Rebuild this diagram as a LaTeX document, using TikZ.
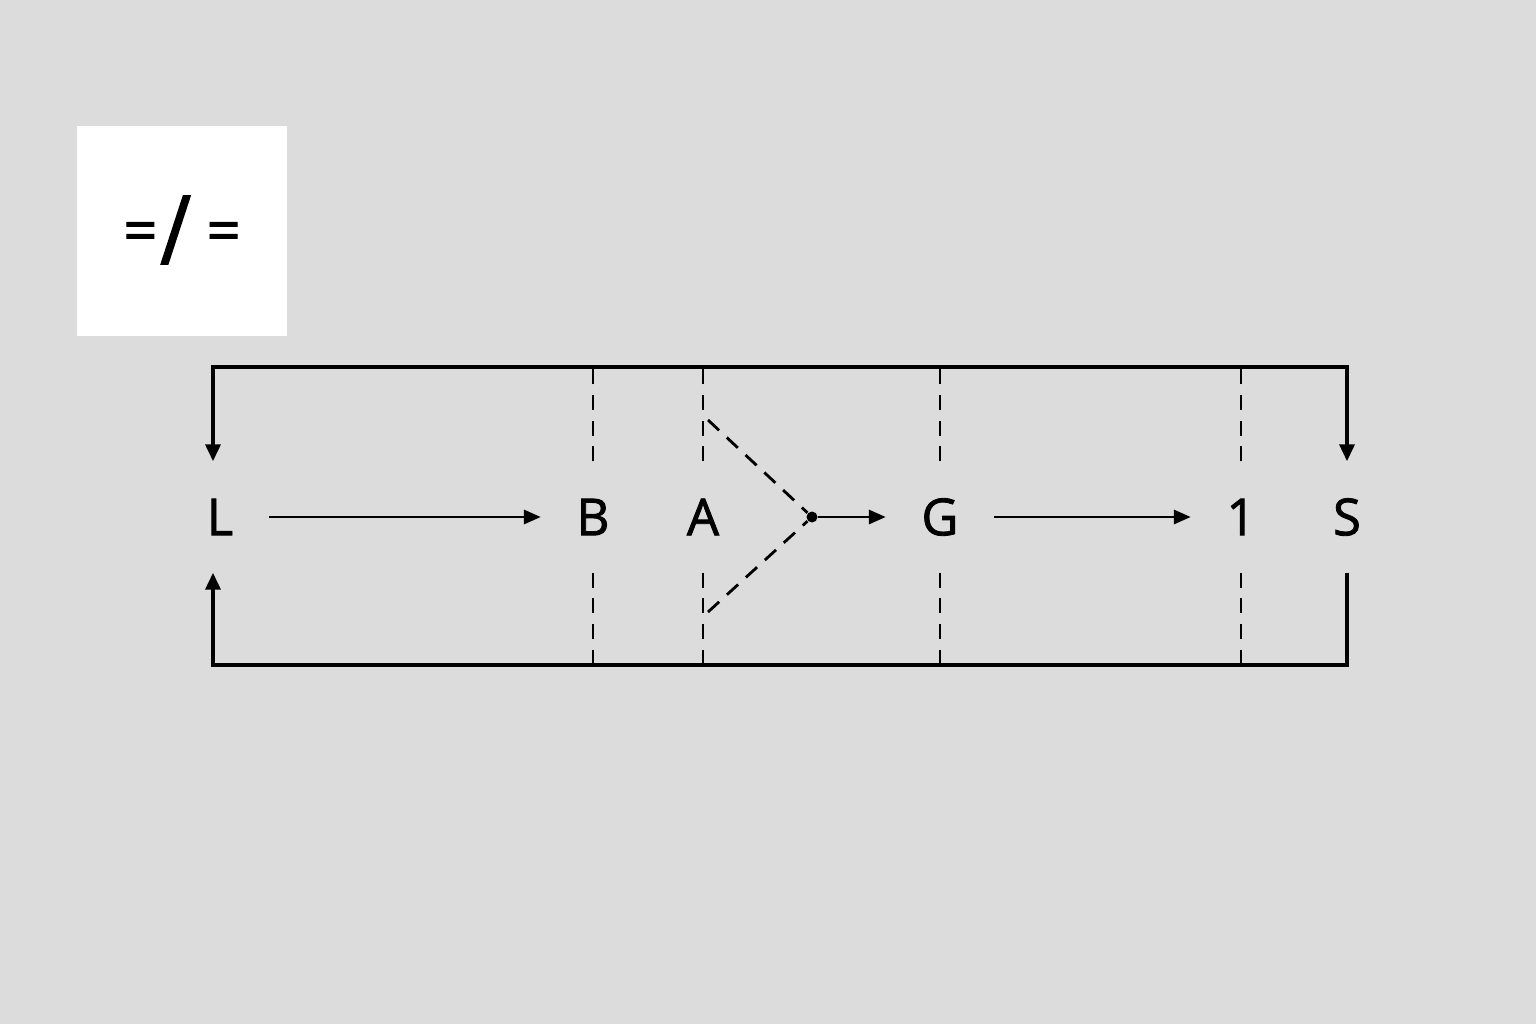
\documentclass[tikz,border=0pt]{standalone}
\usepackage{fontspec}
\setmainfont{Open Sans}
\newfontfamily\labelfont[FakeBold=1.6]{Open Sans}
\usepackage{graphicx}
\usetikzlibrary{arrows.meta}
\definecolor{bggray}{HTML}{DCDCDC}
\tikzstyle{letter} = [text=black, minimum height=1.1cm, inner xsep=0.35cm, font=\labelfont\fontsize{14.5pt}{17pt}\selectfont]
\tikzstyle{frame} = [line width=1.1pt]
\tikzstyle{framearrows} = [frame, {Triangle[length=4.8pt,width=4.2pt]}-{Triangle[length=4.8pt,width=4.2pt]}]
\tikzstyle{framearrow} = [frame, -{Triangle[length=4.8pt,width=4.2pt]}]
\tikzstyle{arrow} = [line width=0.8pt, -{Triangle[length=4.8pt,width=4pt]}]
\tikzstyle{guide} = [line width=0.8pt, dash pattern=on 4.3pt off 3pt]
\begin{document}
\begin{tikzpicture}
  \fill[bggray] (0,0) rectangle (15.36,10.24);
  \useasboundingbox (0,0) rectangle (15.36,10.24);

  % sign box
  \fill[white] (0.77,6.88) rectangle (2.87,8.98);
  \node (sign) at (1.82,7.94) [font=\labelfont\fontsize{17pt}{20pt}\selectfont] {=\hspace{0.8pt}\raisebox{-3.6pt}{\scalebox{1.4}[1.6]{/}}\ =};

  % row of labels
  \node (L) [letter] at (2.20,5.07) {L};
  \node (B) [letter] at (5.93,5.07) {B};
  \node (A) [letter] at (7.03,5.07) {A};
  \node (G) [letter] at (9.40,5.07) {G};
  \node (one) [letter] at (12.41,5.07) {1};
  \node (S) [letter] at (13.47,5.07) {S};
  \node (dot) [circle, fill=black, inner sep=0pt, minimum size=0.11cm] at (8.12,5.07) {};

  \coordinate (topline) at (7.80,6.57);
  \coordinate (botline) at (7.80,3.59);
  \coordinate (splitup) at (7.08,6.04);
  \coordinate (splitdown) at (7.08,4.12);

  % outer frame
  \draw [framearrows] ([xshift=-0.07cm]L.north) |- (topline) -| (S.north);
  \draw [framearrow] (S.south) |- (botline) -| ([xshift=-0.07cm]L.south);

  % dashed guides
  \foreach \n in {B,A,G,one} {
    \draw [guide] (\n.north) -- (\n.north |- topline);
    \draw [guide] (\n.south) -- (\n.south |- botline);
  }
  \draw [guide] (splitup) -- (dot);
  \draw [guide] (splitdown) -- (dot);

  \draw [arrow] (L) -- (B);
  \draw [arrow] (dot) -- (G);
  \draw [arrow] (G) -- (one);
\end{tikzpicture}
\end{document}
